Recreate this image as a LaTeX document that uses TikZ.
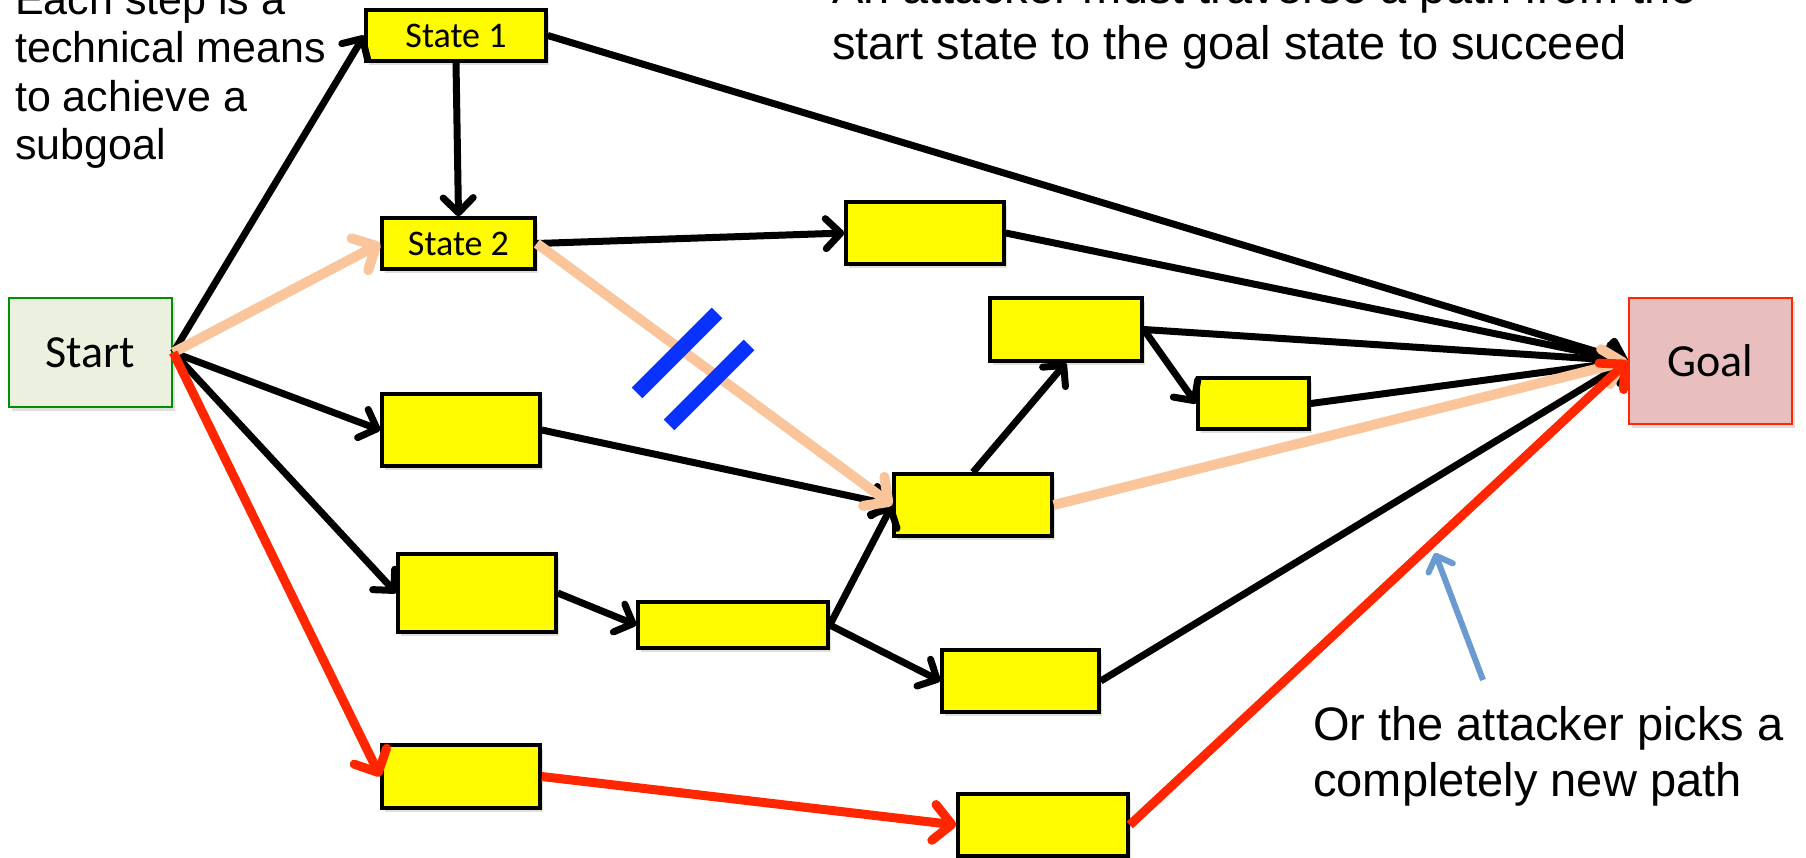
\documentclass[tikz,border=0pt]{standalone}
\usepackage{fontspec}
\setmainfont{Liberation Sans}
\newfontfamily\labelfont{Carlito}
\usetikzlibrary{arrows.meta,shadows}
\definecolor{boxyellow}{HTML}{FFFB00}
\definecolor{startfill}{HTML}{EBF1DE}
\definecolor{startline}{HTML}{008F00}
\definecolor{goalfill}{HTML}{E8BFBE}
\definecolor{goalline}{HTML}{FF2600}
\definecolor{attackred}{HTML}{FF2600}
\definecolor{peach}{HTML}{FAC59A}
\definecolor{cutblue}{HTML}{0A32FF}
\definecolor{noteblue}{HTML}{6A9BD0}

\begin{document}
\begin{tikzpicture}
  [x=1pt,y=-1pt,every node/.style={inner sep=0pt}]
  \tikzstyle{stepbox} = [draw,line width=3.5pt,fill=boxyellow,
    font=\labelfont\fontsize{36}{40}\selectfont,
    drop shadow={shadow xshift=2.5pt,shadow yshift=-3.5pt,opacity=.25}]
  \tikzstyle{hop} = [line width=7pt,-{Straight Barb[length=15pt,width=30pt,line width=7pt,round]}]
  \tikzstyle{old path} = [peach,line width=10pt,-{Straight Barb[length=18pt,width=36pt,line width=10pt,round]}]
  \tikzstyle{new path} = [attackred,line width=9pt,-{Straight Barb[length=18pt,width=36pt,line width=9pt,round]}]
  \tikzstyle{cut} = [cutblue,line width=15pt]
  \tikzstyle{note} = [anchor=base west,align=left]

  \useasboundingbox (0,0) rectangle (1806,857);
  \clip (0,0) rectangle (1806,857);

  % start and goal
  \node[stepbox,fill=startfill,draw=startline,line width=2.5pt,minimum width=163pt,
    minimum height=109pt,font=\labelfont\fontsize{46}{50}\selectfont] (start) at (90.5,352.5) {Start};
  \node[stepbox,fill=goalfill,draw=goalline,line width=2.5pt,minimum width=163pt,
    minimum height=126pt,font=\labelfont\fontsize{46}{50}\selectfont] (goal) at (1710.5,361) {Goal};

  % intermediate states
  \node[stepbox,minimum width=180pt,minimum height=51pt] (s1) at (456,35.5) {State 1};
  \node[stepbox,minimum width=153pt,minimum height=51pt] (s2) at (458.5,243.5) {State 2};
  \node[stepbox,minimum width=158pt,minimum height=62pt] (n1) at (925,233) {};
  \node[stepbox,minimum width=152pt,minimum height=63pt] (n2) at (1066,329.5) {};
  \node[stepbox,minimum width=111pt,minimum height=51pt] (n3) at (1253.5,403.5) {};
  \node[stepbox,minimum width=158pt,minimum height=72pt] (n4) at (461,430) {};
  \node[stepbox,minimum width=158pt,minimum height=62pt] (n5) at (973,505) {};
  \node[stepbox,minimum width=158pt,minimum height=78pt] (n6) at (477,593) {};
  \node[stepbox,minimum width=190pt,minimum height=46pt] (n7) at (733,625) {};
  \node[stepbox,minimum width=157pt,minimum height=62pt] (n8) at (1020.5,681) {};
  \node[stepbox,minimum width=158pt,minimum height=63pt] (n9) at (461,776.5) {};
  \node[stepbox,minimum width=170pt,minimum height=62pt] (n10) at (1043,825) {};

  % steps
  \foreach \source/\dest in {start.east/s1.west,start.east/n4.west,start.east/n6.west,
      s1.south/s2.north,s1.east/goal.west,s2.east/n1.west,n1.east/goal.west,
      n2.east/goal.west,n2.east/n3.west,n3.east/goal.west,n4.east/n5.west,
      n5.north/n2.south,n6.east/n7.west,n7.east/n5.west,n7.east/n8.west,n8.east/goal.west}
    \draw[hop] (\source) -- (\dest);

  % the path that gets blocked
  \foreach \source/\dest in {start.east/s2.west,s2.east/n5.west,n5.east/goal.west}
    \draw[old path] (\source) -- (\dest);
  \draw[cut] (637,393) -- (717,313);
  \draw[cut] (669,425) -- (749,345);

  % the new path
  \foreach \source/\dest in {start.east/n9.west,n9.east/n10.west,n10.east/goal.west}
    \draw[new path] (\source) -- (\dest);

  % notes
  \node[note,font=\fontsize{43}{48.5}\selectfont] (steps) at (15,159.5)
    {Each step is a\\technical means\\to achieve a\\subgoal};
  \node[note,font=\fontsize{47}{56}\selectfont] (aim) at (832,59)
    {An attacker must traverse a path from the\\start state to the goal state to succeed};
  \node[note,font=\fontsize{47}{56}\selectfont] (detour) at (1313,796)
    {Or the attacker picks a\\completely new path};
  \coordinate (hint tail) at (1483,680);
  \coordinate (hint tip) at (1435,553);
  \draw[noteblue,line width=6pt,-{Straight Barb[length=13pt,width=26pt,line width=6pt,round]}]
    (hint tail) -- (hint tip);
\end{tikzpicture}
\end{document}
